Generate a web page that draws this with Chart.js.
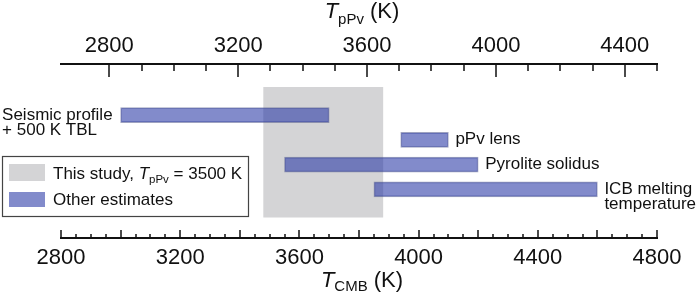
<!DOCTYPE html>
<html>
<head>
<meta charset="utf-8">
<title>CMB temperature estimates</title>
<script src="https://cdn.jsdelivr.net/npm/chart.js@4.4.1/dist/chart.umd.min.js"></script>
<style>
  html, body { margin: 0; padding: 0; background: #fff; }
  #wrap { width: 699px; height: 302px; position: relative; }
</style>
</head>
<body>
<div id="wrap"><canvas id="chart" width="699" height="302"></canvas></div>
<script>
// Estimates of T_CMB (K), one row each, top to bottom
const rowLabels = [['Seismic profile', '+ 500 K TBL'], ['pPv lens'], ['Pyrolite solidus'], ['ICB melting', 'temperature']];
const rowSide = ['left', 'right', 'right', 'right'];
const rowPos = [1, 2, 3, 4];
const rowStart = [3000, 3940, 3550, 3850];
const rowEnd = [3700, 4100, 4200, 4600];

// This study (T_pPv = 3500 K) range in T_CMB
const studyRange = [3480, 3880];
const studyPos = 2.5;

// Axes
const cmbMin = 2800, cmbMax = 4800, cmbStep = 50, cmbMajor = 200, cmbLabelEvery = 400;
const ppvMin = 2650, ppvMax = 4500, ppvStep = 100, ppvLabelEvery = 400;

const BLUE = 'rgba(40, 55, 165, 0.58)';
const GRAY = '#d4d4d6';
const FONT = '"Liberation Sans", Arial, Helvetica, sans-serif';

// draw a run of text pieces (for italic T and subscripts)
function drawRun(ctx, pieces, x, y, align) {
  let total = 0;
  pieces.forEach(p => { ctx.font = p.font; p.w = ctx.measureText(p.text).width; total += p.w; });
  let cx = align === 'center' ? x - total / 2 : x;
  ctx.textAlign = 'left';
  ctx.textBaseline = 'alphabetic';
  pieces.forEach(p => {
    ctx.font = p.font;
    ctx.fillText(p.text, cx, y + (p.dy || 0));
    cx += p.w;
  });
}

const decorations = {
  id: 'decorations',
  afterDraw(chart) {
    const ctx = chart.ctx;
    const {left, right, top, bottom} = chart.chartArea;
    const xb = chart.scales.x, xt = chart.scales.x2;
    ctx.save();
    ctx.strokeStyle = '#111';
    ctx.fillStyle = '#111';

    // axis lines
    ctx.lineWidth = 1.8;
    ctx.beginPath();
    ctx.moveTo(left - 1, bottom); ctx.lineTo(right + 1, bottom);
    ctx.moveTo(left - 1, top); ctx.lineTo(right + 1, top);
    ctx.stroke();

    // tick marks pointing inward
    ctx.lineWidth = 1.5;
    ctx.beginPath();
    xb.ticks.forEach(t => {
      if (t.value % cmbStep) return;
      const px = Math.round(xb.getPixelForValue(t.value));
      const len = t.value % cmbMajor === 0 ? 8 : 4;
      ctx.moveTo(px, bottom); ctx.lineTo(px, bottom - len);
    });
    xt.ticks.forEach(t => {
      if (t.value % ppvStep) return;
      const px = Math.round(xt.getPixelForValue(t.value));
      const len = t.value % ppvLabelEvery === 0 ? 13 : 7;
      ctx.moveTo(px, top); ctx.lineTo(px, top + len);
    });
    ctx.stroke();

    // axis titles
    const mid = (left + right) / 2 + 3;
    drawRun(ctx, [
      {text: 'T', font: 'italic 22px ' + FONT},
      {text: 'pPv', font: '15px ' + FONT, dy: 6},
      {text: ' (K)', font: '22px ' + FONT}
    ], mid, 18, 'center');
    drawRun(ctx, [
      {text: 'T', font: 'italic 22px ' + FONT},
      {text: 'CMB', font: '15px ' + FONT, dy: 4},
      {text: ' (K)', font: '22px ' + FONT}
    ], mid, 287, 'center');

    // row labels next to the bars
    const bars = chart.getDatasetMeta(0).data;
    ctx.font = '17px ' + FONT;
    ctx.textBaseline = 'alphabetic';
    bars.forEach((bar, i) => {
      const lines = rowLabels[i];
      const y0 = bar.y + 4.5;
      ctx.textAlign = 'left';
      if (rowSide[i] === 'left') {
        const w = Math.max(...lines.map(l => ctx.measureText(l).width));
        lines.forEach((l, k) => ctx.fillText(l, bar.base - 8 - w, y0 + k * 15));
      } else {
        lines.forEach((l, k) => ctx.fillText(l, bar.x + 7, y0 + k * 15));
      }
    });

    // legend box
    const lx = 2, ly = 156, lw = 246, lh = 60;
    ctx.fillStyle = '#fff';
    ctx.fillRect(lx, ly, lw, lh);
    ctx.lineWidth = 1.2;
    ctx.strokeStyle = '#444';
    ctx.strokeRect(lx + 0.5, ly + 0.5, lw, lh);
    ctx.fillStyle = GRAY;
    ctx.fillRect(9, 164, 36, 17);
    ctx.fillStyle = BLUE;
    ctx.fillRect(9, 192, 36, 15);
    ctx.fillStyle = '#111';
    drawRun(ctx, [
      {text: 'This study, ', font: '17px ' + FONT},
      {text: 'T', font: 'italic 17px ' + FONT},
      {text: 'pPv', font: '11.5px ' + FONT, dy: 4},
      {text: ' = 3500 K', font: '17px ' + FONT}
    ], 53, 179, 'left');
    drawRun(ctx, [{text: 'Other estimates', font: '17px ' + FONT}], 53, 205, 'left');

    ctx.restore();
  }
};

const chart = new Chart(document.getElementById('chart'), {
  type: 'bar',
  data: {
    datasets: [
      {
        label: 'Other estimates',
        data: rowPos.map((p, i) => ({x: [rowStart[i], rowEnd[i]], y: p})),
        backgroundColor: BLUE,
        borderColor: 'rgba(80, 88, 140, 0.55)',
        borderWidth: 1,
        borderSkipped: false,
        barThickness: 15,
        grouped: false,
        xAxisID: 'x'
      },
      {
        label: 'This study',
        data: [{x: studyRange, y: studyPos}],
        backgroundColor: GRAY,
        borderWidth: 0,
        barThickness: 130,
        grouped: false,
        xAxisID: 'x'
      }
    ]
  },
  options: {
    indexAxis: 'y',
    responsive: false,
    animation: false,
    devicePixelRatio: 1,
    layout: { padding: { left: 61, right: 42, top: 0, bottom: 0 } },
    plugins: { legend: { display: false }, tooltip: { enabled: false } },
    scales: {
      y: { type: 'linear', display: false, reverse: true, min: -0.62, max: 5.52 },
      x: {
        type: 'linear', position: 'bottom', min: cmbMin, max: cmbMax,
        grid: { display: false, drawTicks: false },
        border: { display: false },
        ticks: {
          stepSize: cmbStep, autoSkip: false, maxRotation: 0, padding: 7,
          color: '#111', font: { family: FONT, size: 22 },
          callback: v => (v % cmbLabelEvery === 0 ? String(v) : '')
        },
        afterFit: s => { s.height = 64; }
      },
      x2: {
        type: 'linear', position: 'top', min: ppvMin, max: ppvMax,
        grid: { display: false, drawTicks: false },
        border: { display: false },
        ticks: {
          stepSize: ppvStep, autoSkip: false, maxRotation: 0, padding: 5,
          color: '#111', font: { family: FONT, size: 22 },
          callback: v => (v % ppvLabelEvery === 0 ? String(v) : '')
        },
        afterFit: s => { s.height = 64; }
      }
    }
  },
  plugins: [decorations]
});
</script>
</body>
</html>
